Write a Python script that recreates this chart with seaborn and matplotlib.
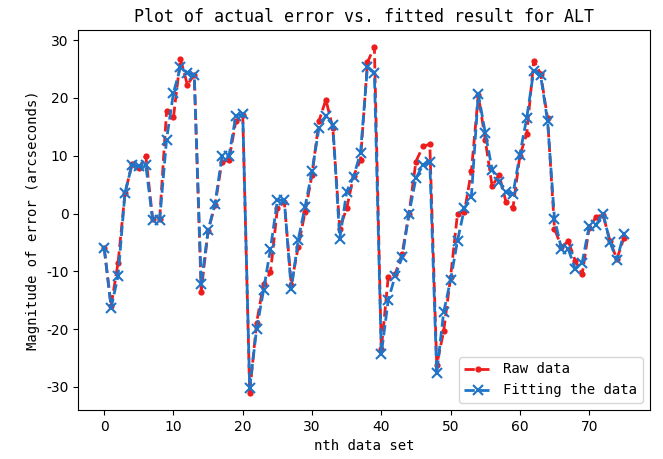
import numpy as np
import pandas as pd
import seaborn as sns
import matplotlib.pyplot as plt

# Values
raw_data = [-6.0, -16.0, -8.5, 3.5, 8.5, 7.8, 10.0, -1.0, -1.0, 17.7,
            16.7, 26.8, 22.3, 24.0, -13.5, -3.0, 1.5, 9.0, 9.2, 16.0,
            17.0, -31.0, -18.9, -12.2, -10.2, 0.9, 2.0, -12.3, -5.8, 0.3,
            6.7, 16.0, 19.7, 14.8, -2.6, 0.9, 6.5, 9.3, 26.2, 28.8,
            -23.5, -11.0, -10.5, -7.0, 0.0, 9.0, 11.6, 12.0, -26.2, -20.4,
            -11.0, 0.0, 0.3, 7.3, 20.5, 12.8, 4.7, 6.7, 2.0, 0.9,
            10.0, 13.8, 26.4, 24.2, 16.5, -2.6, -5.8, -4.8, -8.2, -10.5,
            -2.5, -0.6, -0.2, -4.7, -7.9, -4.3]
fitted = [-6.0, -16.3, -10.8, 3.6, 8.4, 8.2, 8.4, -1.2, -1.2, 12.8,
          20.9, 25.3, 24.4, 23.9, -12.2, -2.9, 1.7, 9.9, 9.9, 16.9,
          17.2, -30.2, -20.0, -13.3, -6.1, 2.3, 2.3, -13.1, -4.6, 1.2,
          7.3, 14.8, 16.9, 15.4, -4.4, 3.8, 6.4, 10.5, 25.4, 24.4,
          -24.3, -15.0, -10.8, -7.6, 0.0, 6.1, 8.4, 9.0, -27.6, -17.1,
          -11.5, -4.7, 0.9, 2.9, 20.7, 14.0, 7.6, 5.5, 3.8, 3.3,
          10.2, 16.6, 24.7, 23.9, 16.0, -0.9, -6.1, -6.2, -9.6, -8.5,
          -2.2, -2.0, 0.0, -4.9, -8.1, -3.5]
index = np.arange(len(raw_data))

df = pd.DataFrame({'n': index, 'raw': raw_data, 'fit': fitted})

plt.rcParams['axes.unicode_minus'] = False
mono = ['DejaVu Sans Mono']
red = '#ee1c1c'
blue = '#1f74c8'

fig = plt.figure(figsize=(6.63, 4.59), dpi=100)
ax = fig.add_axes([0.118, 0.107, 0.862, 0.828])

sns.lineplot(data=df, x='n', y='raw', ax=ax, color=red, linestyle='--',
             linewidth=2, marker='o', markersize=4.5, markeredgewidth=0,
             markerfacecolor=red, label='Raw data')
sns.lineplot(data=df, x='n', y='fit', ax=ax, color=blue, linestyle='--',
             linewidth=2, marker='x', markersize=6.5, markeredgewidth=1.5,
             markeredgecolor=blue, label='Fitting the data')

ax.set_title('Plot of actual error vs. fitted result for ALT',
             fontsize=12, family=mono)
ax.set_xlabel('nth data set', fontsize=10, family=mono)
ax.set_ylabel('Magnitude of error (arcseconds)', fontsize=10, family=mono)
ax.set_xticks(np.arange(0, 80, 10))
ax.set_yticks(np.arange(-30, 40, 10))
ax.tick_params(labelsize=10)

leg = ax.legend(loc='lower right', prop={'family': mono, 'size': 10})

fig.savefig('out.png', dpi=100)
